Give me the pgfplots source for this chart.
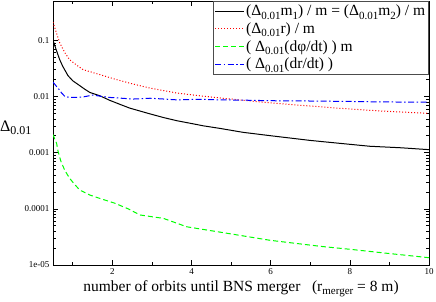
\documentclass[border=0pt]{standalone}
\usepackage{pgfplots}
\pgfplotsset{compat=1.18}
\usepackage{fontspec}
\setmainfont{Liberation Serif}
\newcommand\sub[2][11]{\raisebox{-0.5ex}{\fontsize{#1}{#1}\selectfont #2}}
\begin{document}
\begin{tikzpicture}
\begin{axis}[
  scale only axis,
  width=376pt, height=264pt,
  xmin=0.5, xmax=10,
  ymode=log, ymin=1e-5, ymax=0.5,
  xtick={2,4,6,8,10}, xticklabels={2,4,6,8,10},
  minor xtick={1,3,5,7,9},
  ytick={1e-5,1e-4,1e-3,1e-2,1e-1},
  yticklabels={1e-05,0.0001,0.001,0.01,0.1},
  tick align=inside,
  major tick length=5pt, minor tick length=3pt,
  every tick/.style={black, line width=0.6pt},
  axis line style={line width=0.8pt},
  tick label style={font=\fontsize{9}{10}\selectfont},
  xlabel={number of orbits until BNS merger \ \ (r\sub[11]{merger} = 8 m)},
  xlabel style={font=\fontsize{15.5}{17}\selectfont, yshift=1pt},
  ylabel={Δ\sub[12]{0.01}},
  every axis y label/.style={at={(axis description cs:0,0.52)}, anchor=east, xshift=-18pt, font=\fontsize{16}{18}\selectfont},
  legend style={at={(1,1)}, anchor=north east, font=\fontsize{15.5}{17}\selectfont,
    draw=black!70, line width=0.8pt, inner sep=1.5pt, row sep=1.5pt,
    legend cell align=left},
  legend image code/.code={\draw plot coordinates {(0cm,0cm) (1cm,0cm)};},
]
\addplot[black, line width=1pt] coordinates {
(0.5,0.100) (0.6,0.062) (0.67,0.045) (0.75,0.034) (0.88,0.0234) (1.0,0.019) (1.18,0.0155) (1.3,0.0135) (1.43,0.0118) (1.68,0.0103) (1.94,0.0085) (2.2,0.0072) (2.44,0.0062) (2.7,0.0055) (2.95,0.0049) (3.3,0.0042) (3.63,0.0037) (4.0,0.0033) (4.3,0.0030) (4.72,0.0027) (5.3,0.0023) (6.0,0.0020) (7.0,0.00165) (7.68,0.00148) (8.5,0.0013) (9.3,0.00122) (10,0.00113)};
\addlegendentry{(Δ\sub{0.01}m\sub{1}) / m = (Δ\sub{0.01}m\sub{2}) / m}
\addplot[red, line width=1pt, dotted] coordinates {
(0.5,0.21) (0.58,0.14) (0.67,0.09) (0.8,0.06) (0.92,0.045) (1.1,0.036) (1.26,0.030) (1.68,0.0245) (2.1,0.020) (2.5,0.0168) (2.95,0.0141) (3.3,0.0127) (3.63,0.0115) (4.2,0.0103) (4.72,0.0094) (5.57,0.0082) (6.5,0.0072) (7.68,0.0062) (8.8,0.0055) (10,0.0050)};
\addlegendentry{(Δ\sub{0.01}r) / m}
\addplot[green, line width=1pt, dash pattern=on 5pt off 3pt] coordinates {
(0.5,0.0021) (0.55,0.0017) (0.59,0.00148) (0.63,0.00104) (0.7,0.0007) (0.8,0.00048) (0.92,0.00035) (1.05,0.00027) (1.18,0.000215) (1.43,0.000176) (1.7,0.000152) (2.06,0.000126) (2.4,0.0001) (2.7,0.0000777) (3.29,0.0000676) (3.88,0.0000479) (4.72,0.0000385) (5.99,0.0000275) (7.26,0.0000215) (8.02,0.000019) (9,0.0000160) (10,0.0000135)};
\addlegendentry{( Δ\sub{0.01}(dφ/dt) ) m}
\addplot[blue, line width=1pt, dash pattern=on 6pt off 2.5pt on 1.5pt off 2.5pt] coordinates {
(0.5,0.018) (0.56,0.016) (0.63,0.014) (0.72,0.0115) (0.8,0.0100) (0.92,0.0096) (1.1,0.0096) (1.26,0.0098) (1.51,0.0106) (1.7,0.0101) (1.94,0.0096) (2.53,0.0090) (2.95,0.0093) (3.3,0.0090) (3.63,0.0087) (4.2,0.0089) (4.72,0.0087) (5.3,0.0086) (5.99,0.0084) (7.0,0.0083) (7.68,0.0082) (8.8,0.0080) (10,0.0079)};
\addlegendentry{( Δ\sub{0.01}(dr/dt) )}
\end{axis}
\pgfresetboundingbox
\path (current axis.south west) ++(-53pt,-36pt) rectangle ([xshift=7pt,yshift=1pt]current axis.north east);
\end{tikzpicture}
\end{document}
